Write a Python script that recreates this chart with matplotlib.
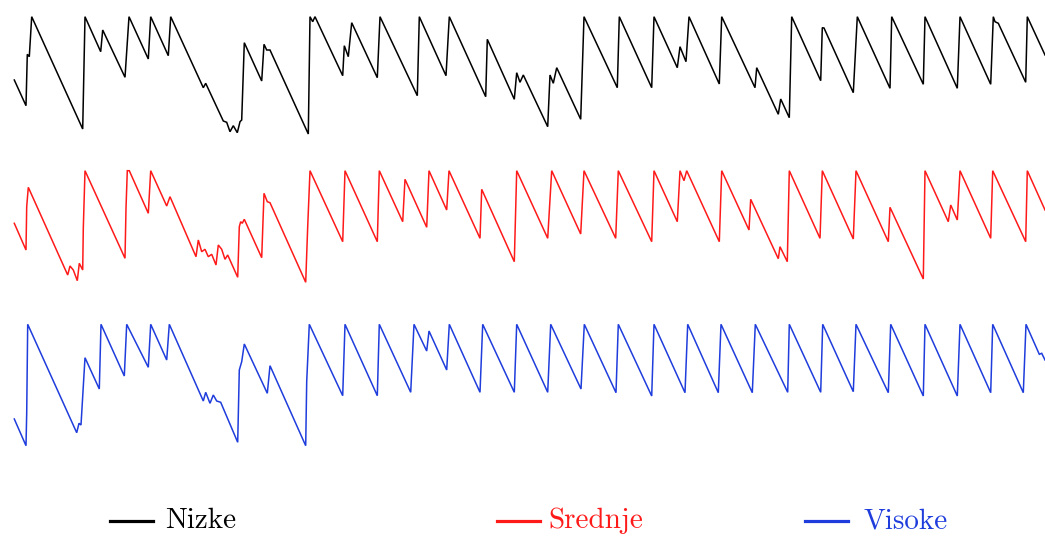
import matplotlib
matplotlib.use("Agg")
import matplotlib.pyplot as plt
from matplotlib.lines import Line2D

# ---- data (time in days, level as % of maximum) ----
t_nizke = [0.3, 12, 13.3, 15.3, 17.7, 68.7, 71, 86.7, 88.7, 111, 115, 134.3, 136.7, 154.3, 156.7,
           189.3, 191.7, 209.3, 212.7, 216, 219.3, 223.3, 226, 227.7, 230.3, 247.7, 250, 252.7, 256,
           294.3, 296, 298.7, 301, 328.7, 330.3, 334.3, 337.7, 363.3, 366, 403.3, 405.3, 432, 435.3,
           471.7, 473.3, 500.3, 502.7, 506, 509.3, 533.7, 536, 539.3, 542.7, 566.7, 570, 603.3, 605.3,
           637.7, 640, 663.3, 666, 672, 675, 705.3, 707.7, 741, 742.7, 764.3, 766.7, 775.3, 777.7,
           806.7, 808.3, 810, 839.3, 843.3, 876, 877.7, 909.3, 911, 943.3, 946, 976.7, 979.3, 981,
           984.3, 1011.7, 1013.3, 1031]
v_nizke = [36.7, 11, 62.4, 60, 100, -12.3, 100, 65, 86.7, 39.4, 100, 57.7, 100, 61, 100,
           29, 33.4, -4.3, -5.6, -15, -9, -16, -5, -3.3, 74, 35.7, 72.4, 66.7, 66.7,
           -17.3, 100, 95, 100, 41, 71, 60, 94, 39, 100, 21, 100, 41, 100,
           20, 77.4, 17.4, 44, 34.4, 41.7, -10, 41.7, 33.4, 49, -2.6, 100, 29, 100,
           29, 100, 49, 70, 55, 100, 32.7, 100, 29, 49, 2.4, 17.7, -1, 100,
           36, 89, 88.7, 24, 100, 28.4, 100, 32.4, 100, 28.4, 100, 32.4, 100, 95,
           93.4, 34.4, 100, 61.7]

t_srednje = [0.3, 12, 12.7, 14.3, 53.7, 56, 59.3, 63.3, 65.3, 68.7, 69.3, 71, 111, 112, 113.3, 115.3,
             134.3, 136.7, 152.7, 156, 182, 184.3, 187.7, 191, 194.3, 197.7, 202, 204.3, 207.7, 211,
             213.7, 223.7, 225.3, 226.7, 228.3, 230.3, 247.7, 250, 253.3, 256, 291.7, 293.7, 296,
             328.7, 331, 363.3, 365.3, 388.7, 391, 412.7, 415, 432.7, 435, 466, 467.7, 500.3, 502.7,
             533.7, 537.7, 566.7, 570, 601.7, 604.3, 637.7, 640, 663.3, 666, 670, 672.7, 705.3, 707.7,
             735, 736.7, 764.3, 766, 773.3, 775.3, 806, 808.3, 839.3, 842, 874.3, 876, 909.3, 911,
             934.3, 936.7, 943.3, 946, 976.7, 978.7, 1011.7, 1013.3, 1031]
v_srednje = [47.4, 20.7, 64, 83.4, -4.3, 4.7, 0.7, -10, 7.4, 0.7, 42.4, 100, 12.4, 62.4, 100, 100,
             57.4, 100, 64.7, 74, 14, 30.7, 19, 21.4, 14, 16.4, 5.7, 25.7, 21.4, 11.4,
             15.7, -6.6, 44, 49, 47.4, 51.4, 13, 77.4, 69, 68, -11.6, 44, 100,
             29, 100, 29, 100, 49, 91.4, 43.4, 100, 60.7, 100, 32.4, 81.4, 9, 100,
             32.4, 100, 36.7, 100, 32.4, 100, 29, 100, 49, 100, 90, 100, 29, 100,
             40.7, 71.4, 12, 24, 9, 100, 32.4, 100, 31.7, 100, 29, 63.4, -8.3, 100,
             49, 65.7, 50.7, 100, 32.4, 100, 29, 100, 60.7]

t_visoke = [0.3, 12, 12.7, 13.7, 62.7, 65, 67, 71, 85.3, 87, 110.3, 112.7, 134.3, 136.7, 152.7, 155.3,
            189.3, 191.7, 196, 199.3, 202.7, 206.7, 223.7, 225.3, 227.7, 230.3, 253.3, 256, 291.7,
            292.7, 295.3, 328.7, 331, 363.3, 365.3, 396.7, 400, 412.7, 415, 432.7, 435.3, 466, 468.7,
            500.3, 502.7, 533.7, 536.7, 567, 570.3, 602, 604.3, 637.7, 640, 671, 673.7, 704.3, 707,
            738.3, 741.3, 773.7, 775.3, 806.7, 808.7, 839.3, 842, 874.3, 876.7, 909.3, 911, 943.3,
            946, 976.7, 978.7, 1009.3, 1012, 1025.3, 1027.7, 1031]
v_visoke = [5.3, -21.4, 11, 100, -8.4, 1, -0.7, 66.6, 35.3, 100, 48.3, 100, 57, 100, 64.3, 100,
            23.3, 32, 21, 29.3, 23.3, 22, -18, 54.3, 62.6, 80.3, 31, 58.6, -21.4,
            42.6, 100, 28.6, 100, 28.6, 100, 32, 100, 73.3, 93.3, 54.3, 100, 32, 100,
            32, 100, 32, 100, 35.3, 100, 31.6, 100, 28.3, 100, 31.6, 100, 31.6, 100,
            31.6, 100, 32, 100, 32, 100, 32.6, 100, 31.6, 100, 28.3, 100, 28.3,
            100, 31.6, 100, 31.6, 100, 70, 71, 64.3]

labels = ["Nizke", "Srednje", "Visoke"]
colors = ["#000000", "#ff1a1a", "#1f3ddc"]
series = [(t_nizke, v_nizke), (t_srednje, v_srednje), (t_visoke, v_visoke)]

W, H = 1045, 537
fig = plt.figure(figsize=(W / 100, H / 100), dpi=100)

tops_px = [16.7, 170.7, 324.3]
panel_h = 125
left_px = 14
for (t, v), c, top in zip(series, colors, tops_px):
    ax = fig.add_axes([left_px / W, 1 - (top + panel_h) / H, (W - left_px) / W, panel_h / H])
    ax.plot(t, v, color=c, lw=1.1, clip_on=False, solid_joinstyle="miter")
    ax.set_xlim(0, 1031)
    ax.set_ylim(-25, 100)
    ax.axis("off")

# legend row
legend_y = 1 - 521 / H
handle_x = [110, 497, 805]
text_x = [165, 548, 863]
for hx, tx, lab, c in zip(handle_x, text_x, labels, colors):
    fig.add_artist(Line2D([hx / W, (hx + 43) / W], [legend_y, legend_y], color=c, lw=2.3,
                          transform=fig.transFigure))
    fig.text(tx / W, legend_y, lab, color=c, fontsize=21, family="cmr10",
             va="center", ha="left")

fig.savefig("out.png", dpi=100, facecolor="white")
